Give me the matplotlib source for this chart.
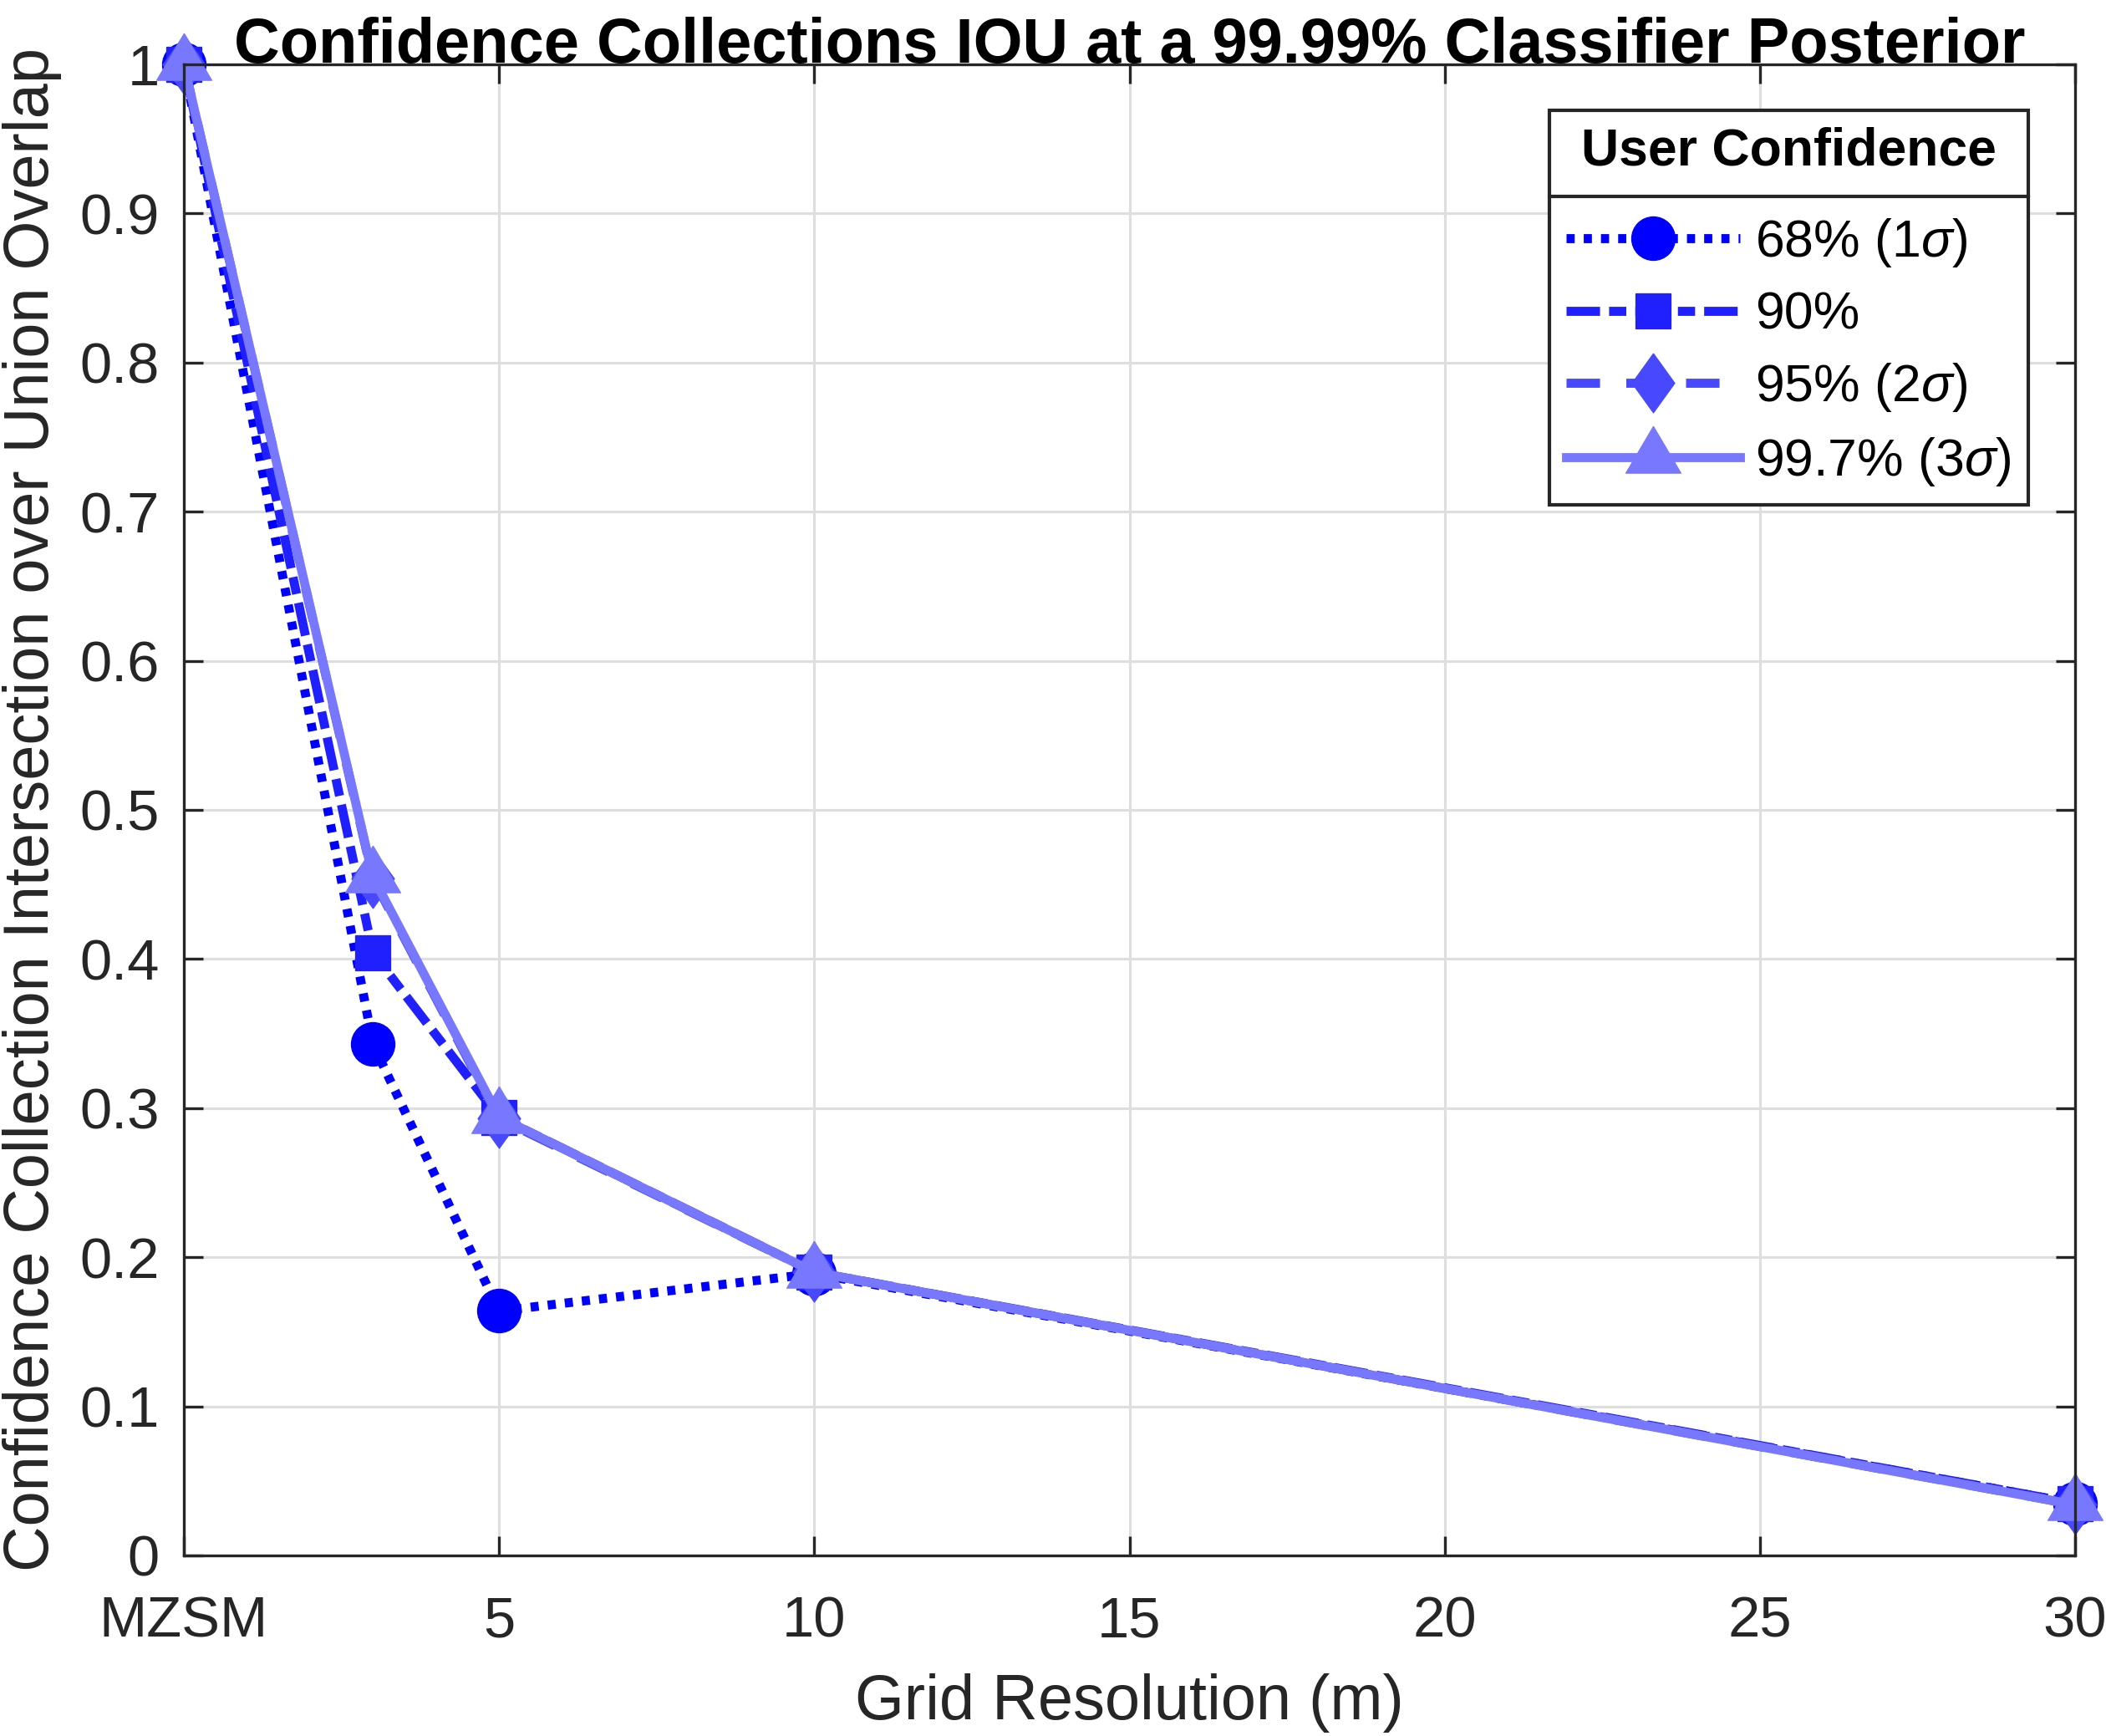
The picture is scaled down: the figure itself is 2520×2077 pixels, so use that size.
import matplotlib
matplotlib.use("Agg")
import matplotlib.pyplot as plt
from matplotlib.lines import Line2D

plt.rcParams['font.family'] = ['Liberation Sans', 'DejaVu Sans']
plt.rcParams['mathtext.fontset'] = 'custom'
plt.rcParams['mathtext.rm'] = 'Liberation Sans'
plt.rcParams['mathtext.it'] = 'Liberation Sans:italic'

# ---- data ----
x_res = [0, 3, 5, 10, 30]
iou_68 = [1.0, 0.343, 0.164, 0.189, 0.035]
iou_90 = [1.0, 0.404, 0.294, 0.190, 0.035]
iou_95 = [1.0, 0.454, 0.293, 0.190, 0.034]
iou_997 = [1.0, 0.455, 0.294, 0.190, 0.034]
series_labels = ['68% (1$\\sigma$)', '90%', '95% (2$\\sigma$)', '99.7% (3$\\sigma$)']
xtick_vals = [0, 5, 10, 15, 20, 25, 30]
xtick_labels = ['MZSM', '5', '10', '15', '20', '25', '30']
ytick_vals = [0, 0.1, 0.2, 0.3, 0.4, 0.5, 0.6, 0.7, 0.8, 0.9, 1.0]
ytick_labels = ['0', '0.1', '0.2', '0.3', '0.4', '0.5', '0.6', '0.7', '0.8', '0.9', '1']

# ---- style ----
colors = ['#0000ff', '#2020ff', '#4848ff', '#7878ff']
styles = [(0, (0.9, 1.0)), (0, (3.7, 1.0, 1.9, 1.0)), (0, (3.7, 2.9)), '-']
# MATLAB-like marker shapes: wide diamond, centroid-centred triangle
diamond = [(0, 1), (0.72, 0), (0, -1), (-0.72, 0), (0, 1)]
tri_h = 0.85
triangle = [(0, 2 * tri_h / 3), (0.5, -tri_h / 3), (-0.5, -tri_h / 3), (0, 2 * tri_h / 3)]
markers = ['o', 's', diamond, triangle]
tri_ms = 15.8 * (2 * tri_h / 3) / 0.5  # gives base width ~15.8 pt
msizes = [12.5, 10.0, 17.0, tri_ms]

TICK_FS = 16.5
LABEL_FS = 18.2
LEG_FS = 15.0
LW = 2.6

fig = plt.figure(figsize=(8.4, 2077 / 300), dpi=300)
ax = fig.add_axes([220 / 2520, 1 - 1861 / 2077, (2483 - 220) / 2520, (1861 - 77) / 2077])

for yv, col, ls, mk, ms, lab in zip([iou_68, iou_90, iou_95, iou_997], colors, styles,
                                      markers, msizes, series_labels):
    ax.plot(x_res, yv, color=col, linestyle=ls, linewidth=LW, marker=mk, markersize=ms,
            markerfacecolor=col, markeredgecolor=col, markeredgewidth=0.3,
            label=lab, clip_on=False, dash_capstyle='butt')

ax.set_xlim(0, 30)
ax.set_ylim(0, 1)
ax.set_xticks(xtick_vals)
ax.set_xticklabels(xtick_labels)
ax.set_yticks(ytick_vals)
ax.set_yticklabels(ytick_labels)
ax.grid(True, color='#dedede', linewidth=0.75)
ax.set_axisbelow(True)
for sp in ax.spines.values():
    sp.set_color('#262626')
    sp.set_linewidth(0.8)
ax.tick_params(direction='in', top=True, right=True, length=5.5, width=0.8,
               colors='#262626', labelsize=TICK_FS)
ax.tick_params(axis='y', pad=7)
ax.tick_params(axis='x', pad=11.5)

ax.set_xlabel('Grid Resolution (m)', fontsize=LABEL_FS, color='#262626', labelpad=7)
ax.set_ylabel('Confidence Collection Intersection over Union Overlap', fontsize=LABEL_FS,
              color='#262626', labelpad=5)
ax.set_title('Confidence Collections IOU at a 99.99% Classifier Posterior', fontsize=LABEL_FS,
             fontweight='bold', color='black', pad=0.5)

leg = ax.legend(loc='upper right', bbox_to_anchor=(0.9753, 0.9692), borderaxespad=0,
                fontsize=LEG_FS, title='User Confidence',
                title_fontproperties={'weight': 'bold', 'size': LEG_FS},
                handlelength=3.33, handletextpad=0.29, borderpad=0.32, labelspacing=0.41,
                fancybox=False, framealpha=1, edgecolor='#262626')
leg.get_frame().set_linewidth(1.0)
try:
    leg._legend_box.sep = 11.5
except Exception:
    pass

fig.canvas.draw()
renderer = fig.canvas.get_renderer()
try:
    tb = leg._legend_title_box.get_window_extent(renderer)
    hb = leg._legend_handle_box.get_window_extent(renderer)
    fb = leg.get_frame().get_window_extent(renderer)
    ysep = (tb.y0 + hb.y1) / 2
    W, H = fig.bbox.width, fig.bbox.height
    fig.add_artist(Line2D([fb.x0 / W, fb.x1 / W], [ysep / H, ysep / H], transform=fig.transFigure,
                          color='#262626', linewidth=1.0, zorder=10))
except Exception:
    pass

fig.savefig('out.png', dpi=300)
